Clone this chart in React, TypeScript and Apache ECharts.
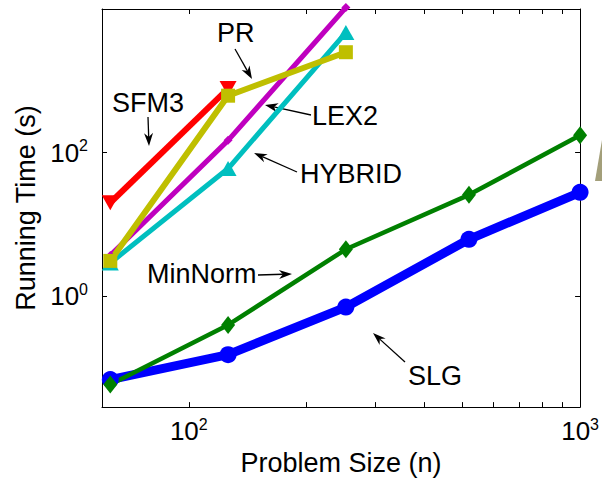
import React, { useEffect, useRef } from "react";
import * as echarts from "echarts";

const PROBLEM_SIZES = [63, 126, 252, 520, 1000];
const SLG = [0.069, 0.153, 0.705, 6.2, 28];
const MIN_NORM = [0.059, 0.398, 4.5, 25.8, 174];
const SFM3 = [20, 780];
const PR = [3.1, 620, 2500];
const LEX2 = [3.7, 148, 10500];
const HYBRID = [2.9, 60, 4700];

const X_TICKS = [100, 200, 300, 400, 500, 600, 700, 800, 900, 1000];
const X_LABELS = [100, 1000];
const Y_TICKS = [1, 100];
const Y_LABELS = [1, 100];

const FONT = "'Liberation Sans', Arial, Helvetica, sans-serif";

function pairs(vals: number[]) {
  return vals.map((v, i) => [PROBLEM_SIZES[i], v]);
}

function arrow(tx: number, ty: number, hx: number, hy: number) {
  const dx = hx - tx;
  const dy = hy - ty;
  const len = Math.sqrt(dx * dx + dy * dy);
  const ux = dx / len;
  const uy = dy / len;
  const nx = -uy;
  const ny = ux;
  const L = 13;
  const W = 9;
  const bx = hx - ux * L;
  const by = hy - uy * L;
  const nb = hx - ux * L * 0.7;
  const mb = hy - uy * L * 0.7;
  return [
    {
      type: "line",
      shape: { x1: tx, y1: ty, x2: nb, y2: mb },
      style: { stroke: "#000", lineWidth: 1.3 },
    },
    {
      type: "polygon",
      shape: {
        points: [
          [hx, hy],
          [bx + (nx * W) / 2, by + (ny * W) / 2],
          [nb, mb],
          [bx - (nx * W) / 2, by - (ny * W) / 2],
        ],
      },
      style: { fill: "#000" },
    },
  ];
}

function label(text: string, x: number, y: number) {
  return {
    type: "text",
    x,
    y,
    style: {
      text,
      fontSize: 27,
      fontFamily: FONT,
      fill: "#000",
      align: "left",
      verticalAlign: "middle",
    },
  };
}

const supFormatter = (v: number) => `{b|10}{s|${Math.round(Math.log10(v))}}`;
const rich = {
  b: { fontSize: 26, fontFamily: FONT, color: "#000", lineHeight: 30 },
  s: { fontSize: 16, fontFamily: FONT, color: "#000", lineHeight: 12, verticalAlign: "top" },
};

export default function App() {
  const ref = useRef<HTMLDivElement>(null);
  useEffect(() => {
    if (!ref.current) return;
    const chart = echarts.init(ref.current, undefined, { renderer: "svg" });
    const axisLine = { show: true, lineStyle: { color: "#000", width: 1 } };
    const option: any = {
      animation: false,
      backgroundColor: "#fff",
      grid: { left: 102, right: 19, top: 9, bottom: 70 },
      xAxis: [
        {
          type: "log",
          min: 60,
          max: 1000,
          position: "bottom",
          axisLine,
          axisTick: { show: true, inside: true, length: 5, customValues: X_TICKS, lineStyle: { color: "#000" } },
          axisLabel: { show: true, margin: 9, customValues: X_LABELS, formatter: supFormatter, rich },
          splitLine: { show: false },
          minorTick: { show: false },
          name: "Problem Size (n)",
          nameLocation: "middle",
          nameGap: 34,
          nameTextStyle: { fontSize: 27, fontFamily: FONT, color: "#000" },
        },
        {
          type: "log",
          min: 60,
          max: 1000,
          position: "top",
          axisLine,
          axisTick: { show: true, inside: true, length: 5, customValues: X_TICKS, lineStyle: { color: "#000" } },
          axisLabel: { show: false },
          splitLine: { show: false },
        },
      ],
      yAxis: [
        {
          type: "log",
          min: 0.0285,
          max: 10000,
          position: "left",
          axisLine,
          axisTick: { show: true, inside: true, length: 5, customValues: Y_TICKS, lineStyle: { color: "#000" } },
          axisLabel: { show: true, margin: 14, customValues: Y_LABELS, formatter: supFormatter, rich },
          splitLine: { show: false },
          name: "Running Time (s)",
          nameLocation: "middle",
          nameGap: 62,
          nameTextStyle: { fontSize: 27, fontFamily: FONT, color: "#000" },
        },
        {
          type: "log",
          min: 0.0285,
          max: 10000,
          position: "right",
          axisLine,
          axisTick: { show: true, inside: true, length: 5, customValues: Y_TICKS, lineStyle: { color: "#000" } },
          axisLabel: { show: false },
          splitLine: { show: false },
        },
      ],
      series: [
        {
          name: "SLG",
          type: "line",
          data: pairs(SLG),
          lineStyle: { color: "#0000FF", width: 9 },
          itemStyle: { color: "#0000FF" },
          symbol: "circle",
          symbolSize: 17,
          clip: false,
        },
        {
          name: "MinNorm",
          type: "line",
          data: pairs(MIN_NORM),
          lineStyle: { color: "#008000", width: 4.5 },
          itemStyle: { color: "#008000" },
          symbol: "diamond",
          symbolSize: [14, 18],
          clip: false,
        },
        {
          name: "SFM3",
          type: "line",
          data: pairs(SFM3),
          lineStyle: { color: "#FF0000", width: 6 },
          itemStyle: { color: "#FF0000" },
          symbol: "triangle",
          symbolRotate: 180,
          symbolSize: [17, 15],
          clip: false,
        },
        {
          name: "LEX2",
          type: "line",
          data: pairs(LEX2),
          lineStyle: { color: "#BF00BF", width: 5 },
          itemStyle: { color: "#BF00BF" },
          symbol: "diamond",
          symbolSize: 9,
          clip: false,
        },
        {
          name: "HYBRID",
          type: "line",
          data: pairs(HYBRID),
          lineStyle: { color: "#00BFBF", width: 5 },
          itemStyle: { color: "#00BFBF" },
          symbol: "triangle",
          symbolSize: [17, 15],
          clip: false,
        },
        {
          name: "PR",
          type: "line",
          data: pairs(PR),
          lineStyle: { color: "#BFBF00", width: 6 },
          itemStyle: { color: "#BFBF00" },
          symbol: "rect",
          symbolSize: 14,
          clip: false,
        },
      ],
      graphic: [
        label("SFM3", 112, 102.5),
        ...arrow(148, 117, 149, 146),
        label("PR", 217, 33),
        ...arrow(235, 49, 252, 79),
        label("LEX2", 312, 116),
        ...arrow(311, 115, 265, 105),
        label("HYBRID", 300, 174),
        ...arrow(297, 172, 254, 153),
        label("MinNorm", 147, 274),
        ...arrow(258, 275, 292, 274),
        label("SLG", 408, 376),
        ...arrow(405, 362, 373, 333),
        {
          type: "polygon",
          shape: { points: [[602, 140], [602, 181], [595, 181]] },
          style: { fill: "#A39F7A" },
        },
      ],
    };
    chart.setOption(option);
    return () => chart.dispose();
  }, []);
  return (
    <div
      ref={ref}
      style={{ position: "fixed", left: 0, top: 0, width: 602, height: 481, background: "#fff" }}
    />
  );
}
